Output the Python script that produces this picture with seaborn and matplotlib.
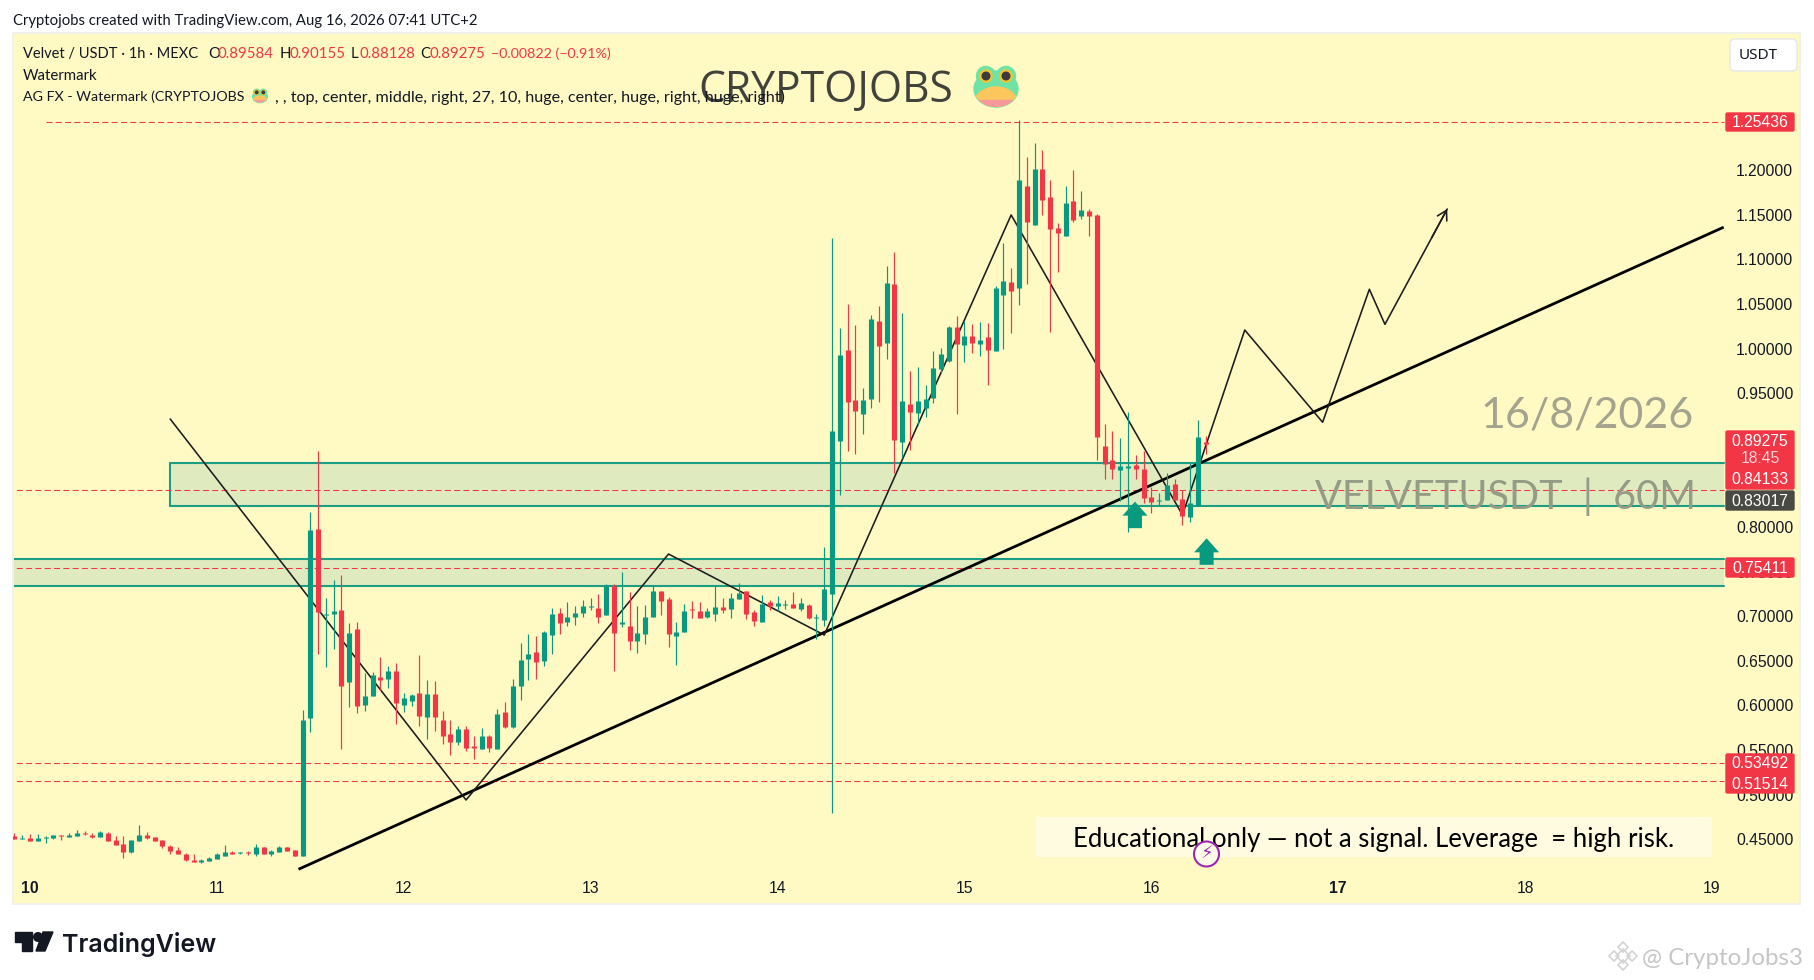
import numpy as np
import pandas as pd
import matplotlib.pyplot as plt
import seaborn as sns
from matplotlib.patches import Rectangle, FancyBboxPatch, FancyArrow, Ellipse, Circle, Polygon
from matplotlib.transforms import Affine2D

# hourly candles, hour 0 is the start of day 10
hours = np.arange(-2, 152)
open_prices = [
    .4537, .4503, .4514, .4480, .4514, .4514, .4548, .4525, .4537, .4570,
    .4548, .4525, .4570, .4492, .4447, .4357, .4480, .4548, .4525, .4492,
    .4424, .4380, .4335, .4267, .4245, .4256, .4279, .4312, .4357, .4346,
    .4357, .4335, .4413, .4335, .4357, .4413, .4380, .4312, .5859, .7978,
    .7014, .7025, .7070, .6263, .6857, .6005, .6106, .6319, .6296, .6386,
    .6005, .6050, .6139, .5870, .6128, .5837, .5680, .5590, .5736, .5545,
    .5511, .5657, .5511, .5926, .5758, .6218, .6520, .6599, .6498, .6790,
    .7036, .6935, .6991, .7036, .7103, .7092, .7013, .7339, .6913, .6890,
    .6722, .6801, .6991, .7283, .7193, .6778, .6823, .7081, .7058, .6991,
    .7025, .7103, .7081, .7193, .7283, .7047, .6935, .7159, .7115, .7126,
    .7137, .7081, .7126, .6980, .6958, .7249, .8964, .9984, .9424, .9267,
    .9435, 1.0309, 1.0063, 1.0724, .8953, .9379, .9278, .9334, .9446, .9771,
    .9861, 1.0242, 1.0040, 1.0141, 1.0052, 1.0130, .9973, 1.0601, 1.0747, 1.0679,
    1.1823, 1.1386, 1.2013, 1.1700, 1.1352, 1.1262, 1.1655, 1.1487, 1.1543, 1.1498,
    .8908, .8751, .8639, .8661, .8695, .8650, .8336, .8291, .8303, .8482,
    .8314, .8112, .8235, .89584]
high_prices = [
    .4570, .4548, .4559, .4559, .4537, .4548, .4548, .4570, .4604, .4593,
    .4570, .4593, .4581, .4537, .4537, .4492, .4660, .4581, .4525, .4492,
    .4436, .4413, .4346, .4335, .4279, .4301, .4346, .4436, .4368, .4357,
    .4368, .4447, .4413, .4380, .4424, .4413, .4380, .5949, .8168, .8850,
    .7204, .7406, .7462, .6924, .6935, .6363, .6375, .6543, .6442, .6476,
    .6139, .6128, .6565, .6285, .6274, .5937, .5837, .5769, .5769, .5657,
    .5747, .5668, .5960, .6038, .6296, .6700, .6801, .6778, .6834, .7092,
    .7092, .7159, .7115, .7182, .7204, .7249, .7361, .7361, .7496, .7271,
    .7115, .7126, .7339, .7283, .7215, .6935, .7137, .7171, .7159, .7092,
    .7339, .7204, .7260, .7372, .7283, .7070, .7238, .7182, .7227, .7182,
    .7271, .7204, .7137, .7025, .7776, 1.1240, 1.0231, 1.0500, 1.0265, .9558,
    1.0377, 1.0478, 1.0926, 1.1083, 1.0399, .9749, .9794, .9592, .9973, 1.0007,
    1.0253, 1.0365, 1.0309, 1.0276, 1.0298, 1.0287, 1.0702, 1.1184, 1.0904, 1.2563,
    1.2148, 1.2305, 1.2226, 1.1890, 1.1408, 1.1823, 1.2002, 1.1767, 1.1565, 1.1509,
    .9155, .9076, .8998, .9289, .8807, .8852, .8452, .8381, .8605, .8538,
    .8415, .8714, .9199, .90155]
low_prices = [
    .4503, .4503, .4480, .4480, .4458, .4503, .4492, .4525, .4537, .4548,
    .4514, .4525, .4480, .4436, .4290, .4346, .4480, .4503, .4480, .4402,
    .4335, .4335, .4256, .4245, .4234, .4256, .4279, .4312, .4335, .4335,
    .4324, .4312, .4335, .4312, .4357, .4368, .4312, .4312, .5702, .6577,
    .6431, .6633, .5511, .5982, .5915, .5937, .6106, .6173, .6195, .5792,
    .5926, .5994, .5769, .5624, .5713, .5568, .5444, .5556, .5489, .5399,
    .5511, .5478, .5511, .5747, .5747, .6061, .6285, .6296, .6442, .6577,
    .6801, .6890, .6902, .6991, .7070, .6924, .7013, .6389, .6879, .6621,
    .6588, .6689, .6991, .7014, .6655, .6453, .6823, .6980, .6980, .6980,
    .6946, .7036, .6980, .7193, .6969, .6890, .6935, .7070, .7058, .7081,
    .7092, .7058, .6969, .6745, .6890, .4794, .8359, .8852, .8818, .9043,
    .9334, .9401, .9883, .8605, .8770, .8863, .9143, .9237, .9390, .9723,
    .9850, .9267, .9850, .9951, .9917, .9592, .9973, .9995, 1.0175, 1.0489,
    1.0724, 1.1386, 1.1498, 1.0186, 1.0859, 1.1262, 1.1419, 1.1453, 1.1262, .8751,
    .8538, .8538, .8291, .7944, .8538, .8269, .8157, .8235, .8303, .8303,
    .8022, .8056, .8235, .88128]
close_prices = [
    .4503, .4514, .4480, .4514, .4525, .4548, .4537, .4548, .4570, .4559,
    .4525, .4581, .4480, .4436, .4357, .4492, .4548, .4514, .4480, .4424,
    .4368, .4335, .4267, .4245, .4267, .4290, .4335, .4357, .4335, .4357,
    .4346, .4413, .4335, .4368, .4413, .4368, .4312, .5836, .7967, .7047,
    .7025, .7059, .6218, .6812, .5994, .6106, .6341, .6285, .6386, .6027,
    .6083, .6117, .5881, .6128, .5870, .5657, .5590, .5736, .5523, .5523,
    .5657, .5523, .5904, .5758, .6218, .6509, .6577, .6487, .6823, .7025,
    .6924, .6991, .7036, .7115, .7115, .6991, .7339, .6815, .6935, .6722,
    .6812, .6991, .7283, .7171, .6801, .6823, .7058, .7070, .6980, .7058,
    .7103, .7070, .7204, .7260, .7025, .6946, .7137, .7115, .7148, .7137,
    .7092, .7148, .6980, .6991, .7305, .9076, .9928, .9401, .9300, .9424,
    1.0332, 1.0029, 1.0735, .8975, .9412, .9289, .9412, .9435, .9782, .9939,
    1.0242, 1.0052, 1.0141, 1.0063, 1.0096, .9984, 1.0679, 1.0758, 1.0646, 1.1890,
    1.1419, 1.2013, 1.1666, 1.1341, 1.1296, 1.1632, 1.1442, 1.1554, 1.1487, .9009,
    .8706, .8650, .8684, .8684, .8650, .8325, .8280, .8303, .8471, .8303,
    .8123, .8269, .9009, .89275]

# drawn levels and zones
level_prices = [1.25436, 0.84133, 0.75411, 0.53492, 0.51514]
level_starts = [2, -3, -3, -3, -3]
zone_tops = [0.8717, 0.7641]
zone_bottoms = [0.8235, 0.7339]
zone_starts = [18, -3]
zone_end = 217.5

# drawn lines
trend_hours = [34.48, 217.5]
trend_prices = [0.4163, 1.1361]
path_hours = [18, 56, 82, 102, 126, 148, 156, 166, 172, 174, 182]
path_prices = [0.9211, 0.4940, 0.7697, 0.6789, 1.1498, 0.8135, 1.0208, 0.9174, 1.0665, 1.0272, 1.1565]
arrow_hours = [141.9, 151.1]
arrow_prices = [0.8284, 0.7873]

# axes
price_ticks = [0.45, 0.50, 0.55, 0.60, 0.65, 0.70, 0.75, 0.80, 0.85, 0.90,
               0.95, 1.00, 1.05, 1.10, 1.15, 1.20]
day_ticks = [0, 24, 48, 72, 96, 120, 144, 168, 192, 216]
day_labels = ['10', '11', '12', '13', '14', '15', '16', '17', '18', '19']

UP = '#089981'
DOWN = '#f23645'
BG = '#fff9c4'
ZONE = '#1b9e85'
UI_FONT = 'Lato'

sns.set_theme(style='white')
plt.rcParams['font.family'] = ['Liberation Sans', 'DejaVu Sans']
plt.rcParams['lines.scale_dashes'] = False

candles = pd.DataFrame({'hour': hours, 'open': open_prices, 'high': high_prices,
                        'low': low_prices, 'close': close_prices})
candles['direction'] = np.where(candles['close'] >= candles['open'], 'up', 'down')
wicks = candles.melt(id_vars=['hour', 'direction'], value_vars=['high', 'low'], value_name='price')
bodies = candles.melt(id_vars=['hour', 'direction'], value_vars=['open', 'close'], value_name='price')

fig = plt.figure(figsize=(18.14, 9.8), dpi=100, facecolor='white')
ax = fig.add_axes([13 / 1814, 1 - 904 / 980, (1800 - 13) / 1814, (904 - 33) / 980], facecolor=BG)

# top-left pixel coordinates, for the screenshot furniture
px = Affine2D().scale(1, -1).translate(0, 980)


def put(x, y, s, color='#131722', size=10.5, family=UI_FONT, ha='left', va='center', z=12, **kw):
    return ax.text(x, y, s, color=color, fontsize=size, family=family, ha=ha, va=va,
                   transform=px, zorder=z, **kw)


def frog(cx, cy, k=1.0, z=6):
    body = Ellipse((cx, cy + 2 * k), 44 * k, 36 * k, color='#6fe3a5', transform=px, zorder=z, clip_on=False)
    ax.add_patch(body)
    for dx in (-10, 10):
        ax.add_patch(Circle((cx + dx * k, cy - 11 * k), 9.5 * k, color='#6fe3a5', transform=px, zorder=z, clip_on=False))
    belly = Ellipse((cx, cy + 17 * k), 44 * k, 34 * k, color='#fcc75c', transform=px, zorder=z + .1)
    ax.add_patch(belly)
    belly.set_clip_path(body)
    blush = Rectangle((cx - 24 * k, cy + 13 * k), 48 * k, 10 * k, color='#f7989a', transform=px, zorder=z + .2)
    ax.add_patch(blush)
    blush.set_clip_path(body)
    for dx in (-10, 10):
        ax.add_patch(Circle((cx + dx * k, cy - 11 * k), 6 * k, color='#f4c430', transform=px, zorder=z + .1, clip_on=False))
        ax.add_patch(Circle((cx + dx * k, cy - 11 * k), 3.8 * k, color='#3c3c3c', transform=px, zorder=z + .2, clip_on=False))


# zones
for top, bottom, start in zip(zone_tops, zone_bottoms, zone_starts):
    ax.add_patch(Rectangle((start, bottom), zone_end - start, top - bottom, facecolor='#dfebbf',
                           edgecolor='none', zorder=1))
    for edge in (top, bottom):
        ax.plot([start, zone_end], [edge, edge], color=ZONE, linewidth=1.5, zorder=1.2)
ax.plot([zone_starts[0], zone_starts[0]], [zone_bottoms[0], zone_tops[0]], color=ZONE, linewidth=1.5, zorder=1.2)

# dashed levels
for level, start in zip(level_prices, level_starts):
    ax.plot([start, zone_end], [level, level], color=DOWN, linewidth=0.75, linestyle=(0, (4.3, 2.4)), zorder=1.4)

# hand drawn lines go under the candles
sns.lineplot(x=trend_hours, y=trend_prices, color='black', linewidth=2.0, sort=False, ax=ax, zorder=1.6,
             solid_capstyle='butt')
sns.lineplot(x=path_hours, y=path_prices, color='#1c1c1c', linewidth=1.15, sort=False, ax=ax, zorder=1.6)

# candles
palette = {'up': UP, 'down': DOWN}
sns.lineplot(data=wicks, x='hour', y='price', hue='direction', units='hour', estimator=None, palette=palette,
             linewidth=0.85, legend=False, ax=ax, zorder=3, solid_capstyle='butt')
sns.lineplot(data=bodies, x='hour', y='price', hue='direction', units='hour', estimator=None, palette=palette,
             linewidth=3.7, legend=False, ax=ax, zorder=3.1, solid_capstyle='butt')

# limits from the price scale and the time scale of the picture
ax.set_xlim((13 - 30) / 7.787, (1800 - 30) / 7.787)
ax.set_ylim(0.8 - 377 * 0.001121, 0.8 + 494 * 0.001121)
ax.set_xlabel('')
ax.set_ylabel('')

head_from = (path_hours[-1] - 0.25 * (path_hours[-1] - path_hours[-2]),
             path_prices[-1] - 0.25 * (path_prices[-1] - path_prices[-2]))
ax.annotate('', xy=(path_hours[-1], path_prices[-1]), xytext=head_from,
            arrowprops=dict(arrowstyle='->,head_length=0.55,head_width=0.32', color='#1c1c1c', lw=1.15,
                            shrinkA=0, shrinkB=0), zorder=1.7)

# teal arrows
for hour, price in zip(arrow_hours, arrow_prices):
    tip_x, tip_y = px.inverted().transform(ax.transData.transform((hour, price)))
    ax.add_patch(FancyArrow(tip_x, tip_y + 26.5, 0, -26.5, width=14, head_width=25, head_length=14,
                            length_includes_head=True, color=UP, transform=px, zorder=4, linewidth=0))

# axes text
ax.yaxis.tick_right()
ax.set_yticks(price_ticks)
ax.set_yticklabels([f'{p:.5f}' for p in price_ticks])
ax.tick_params(axis='y', length=0, pad=-46, labelsize=11.3, labelcolor='#131722')
ax.set_xticks(day_ticks)
ax.set_xticklabels(day_labels)
ax.tick_params(axis='x', length=0, pad=-16.5, labelsize=11.3, labelcolor='#131722')
for label in ax.get_xticklabels():
    if label.get_text() in ('10', '17'):
        label.set_fontweight('bold')
for side in ax.spines.values():
    side.set_color('#f0f1ea')
    side.set_linewidth(1.4)

# price tags
tags = [(112, 132, DOWN), (430, 490, DOWN), (490, 511, '#4a4a45'), (557, 578, DOWN), (753, 794, DOWN)]
for top, bottom, color in tags:
    ax.add_patch(FancyBboxPatch((1726, top + 1), 68, bottom - top - 2, boxstyle='round,pad=0,rounding_size=1.5',
                                facecolor=color, edgecolor=color, linewidth=1, transform=px, zorder=8, clip_on=False))
for y, s in [(122, '1.25436'), (441, '0.89275'), (479, '0.84133'), (501, '0.83017'), (568, '0.75411'),
             (763, '0.53492'), (784, '0.51514')]:
    put(1760, y, s, color='white', size=11.3, family='Liberation Sans', ha='center')
put(1760, 458, '18:45', color='#ffd6d6', size=11.3, family='Liberation Sans', ha='center')

# currency button
ax.add_patch(FancyBboxPatch((1730, 39), 67, 32, boxstyle='round,pad=0,rounding_size=5', facecolor='white',
                            edgecolor='#e6e6e6', linewidth=1, transform=px, zorder=8, clip_on=False))
put(1758, 55, 'USDT', size=11, ha='center', family='Noto Sans')

# header text
put(13, 21, 'Cryptojobs created with TradingView.com, Aug 16, 2026 07:41 UTC+2', size=10.7)
put(23, 54, 'Velvet / USDT · 1h · MEXC', size=10.5)
for x, s in [(208, 'O'), (280, 'H'), (351, 'L'), (420, 'C')]:
    put(x, 54, s, size=10.8)
for x, s in [(217, '0.89584'), (289, '0.90155'), (359, '0.88128'), (429, '0.89275')]:
    put(x, 54, s, color=DOWN, size=10.8)
put(491, 54, '−0.00822 (−0.91%)', color=DOWN, size=10.3)
put(23, 76, 'Watermark', size=10.8)
put(23, 97, 'AG FX - Watermark (CRYPTOJOBS', size=10.3)
frog(260, 96, 0.33, z=11)
put(275, 97, ', , top, center, middle, right, 27, 10, huge, center, huge, right, huge, right)', size=11.6)

# watermark
put(698, 91, 'CRYPTOJOBS', color='#42423c', size=30.7, family='Open Sans', z=5)
frog(996, 87)
put(1694, 415, '16/8/2026', color='#a4a48e', size=31, family='Lato', ha='right', z=5)
put(1696, 497, 'VELVETUSDT  |  60M', color='#959b85', size=28.5, family='Lato', ha='right', z=5)

# note at the bottom
ax.add_patch(Rectangle((1036, 817), 676, 40, facecolor='#fffbe0', edgecolor='none', transform=px, zorder=6))
put(1374, 839, 'Educational only — not a signal. Leverage  = high risk.', color='black', size=18.5, ha='center', z=7)
ax.add_patch(Circle((1206.5, 854), 12.5, facecolor='#fffbe9', edgecolor='#9c27b0', linewidth=1.5, transform=px, zorder=9))
put(1206.5, 854, '⚡', color='#9c27b0', size=13, family='DejaVu Sans', ha='center', z=10)

# TradingView logo
ink = '#131722'
ax.add_patch(Polygon([(15, 932), (32, 932), (32, 951), (22, 951), (22, 942), (15, 942)], color=ink, transform=px,
                     zorder=12, clip_on=False))
ax.add_patch(Circle((38, 937), 4.3, color=ink, transform=px, zorder=12, clip_on=False))
ax.add_patch(Polygon([(43, 932), (53, 932), (45, 951), (36, 951)], color=ink, transform=px, zorder=12, clip_on=False))
put(62, 944, 'TradingView', color=ink, size=18, family='Inter', weight='semibold')

# repost mark
for dx, dy, r in [(0, 0, 7), (-9, 0, 5), (9, 0, 5), (0, -9, 5), (0, 9, 5)]:
    ax.add_patch(Polygon([(1623 + dx - r, 956 + dy), (1623 + dx, 956 + dy - r), (1623 + dx + r, 956 + dy),
                          (1623 + dx, 956 + dy + r)], facecolor='none', edgecolor='#d4d4d4', linewidth=1.2,
                         transform=px, zorder=12, clip_on=False))
put(1642, 958, '@ CryptoJobs3', color='#c6c6c6', size=17.3, family='Lato')

fig.savefig('out.png', dpi=100)
